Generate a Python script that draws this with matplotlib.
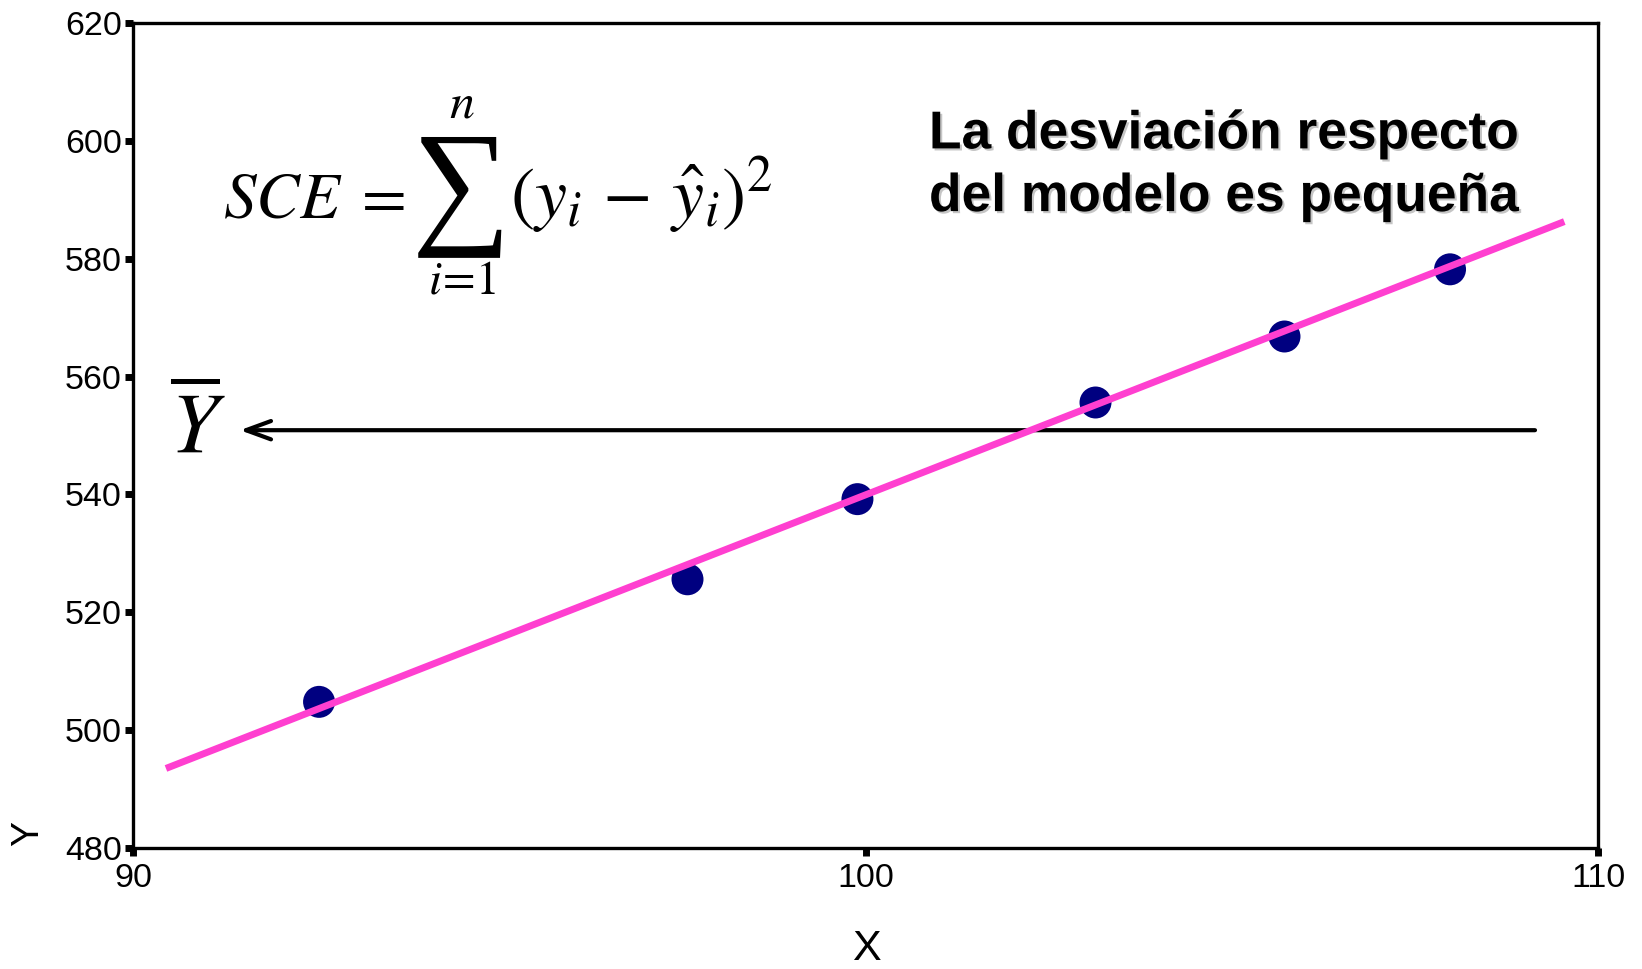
import matplotlib
matplotlib.use("Agg")
import matplotlib.pyplot as plt
import matplotlib.patheffects as pe

plt.rcParams['font.family'] = ['Liberation Sans', 'DejaVu Sans']
plt.rcParams['mathtext.fontset'] = 'stix'

# Observed points
x_obs = [92.54, 97.57, 99.89, 103.14, 105.72, 107.98]
y_obs = [504.8, 525.6, 539.2, 555.6, 566.8, 578.2]

# Fitted regression line end points
x_fit = [90.45, 109.54]
y_fit = [493.5, 586.3]

# Level of the mean reference arrow and its extent
y_mean_level = 550.9
arrow_x_start = 109.14
arrow_x_end = 91.46

x_ticks = [90, 100, 110]
y_ticks = [480, 500, 520, 540, 560, 580, 600, 620]

W, H = 1642, 969
fig = plt.figure(figsize=(W / 100, H / 100), dpi=100)
ax_left, ax_right, ax_top, ax_bottom = 133, 1598, 23, 848
ax = fig.add_axes([ax_left / W, 1 - ax_bottom / H,
                   (ax_right - ax_left) / W, (ax_bottom - ax_top) / H])


def frac(px, py):
    """Pixel position in the image -> axes fraction."""
    return ((px - ax_left) / (ax_right - ax_left),
            (ax_bottom - py) / (ax_bottom - ax_top))


ax.plot(x_fit, y_fit, color='#ff3fd0', lw=5, solid_capstyle='butt', zorder=3)
ax.scatter(x_obs, y_obs, s=530, color='#000080', edgecolors='none', zorder=2)

ax.annotate('', xy=(arrow_x_end, y_mean_level), xytext=(arrow_x_start, y_mean_level),
            arrowprops=dict(arrowstyle='->,head_length=0.6,head_width=0.22',
                            lw=3, color='black', mutation_scale=30,
                            shrinkA=0, shrinkB=0),
            zorder=1)

ax.set_xlim(90, 110)
ax.set_ylim(480, 620)
ax.set_xticks(x_ticks)
ax.set_yticks(y_ticks)
ax.tick_params(axis='both', direction='out', length=6, width=5, labelsize=24.5,
               color='black', top=False, right=False)
ax.tick_params(axis='y', pad=2)
ax.tick_params(axis='x', pad=5)
for s in ax.spines.values():
    s.set_linewidth(2.4)
    s.set_color('black')

ax.set_xlabel('X', fontsize=31)
ax.xaxis.set_label_coords(*frac(866, 960))
ax.xaxis.label.set_verticalalignment('baseline')
ax.set_ylabel('Y', fontsize=27)
ax.yaxis.set_label_coords(-0.0717, 0.018)
ax.yaxis.label.set_verticalalignment('center')

# Sum of squared errors formula, set piece by piece in display style
ax.text(*frac(223, 217), r'$SCE\;=$', transform=ax.transAxes,
        fontsize=47, ha='left', va='baseline')
ax.text(*frac(461, 194), '\u2211', transform=ax.transAxes,
        family='Liberation Serif', fontsize=100, ha='center', va='center')
ax.text(*frac(462, 105), r'$n$', transform=ax.transAxes,
        fontsize=36, ha='center', va='center')
ax.text(*frac(462, 282), r'$i\!=\!1$', transform=ax.transAxes,
        fontsize=34, ha='center', va='center')
ax.text(*frac(510, 217), r'$(y_i\,-\,\hat{y}_i)^2$', transform=ax.transAxes,
        fontsize=52, ha='left', va='baseline')

# Mean label
ax.text(0.0444, 0.508, r'$\overline{Y}$', transform=ax.transAxes,
        fontsize=61, ha='center', va='center')

shadow = [pe.SimplePatchShadow(offset=(1.5, -1.5), shadow_rgbFace='#808080', alpha=0.45),
          pe.Normal()]
ax.text(0.745, 0.848, 'La desviación respecto', transform=ax.transAxes,
        fontsize=38.4, fontweight='bold', ha='center', va='baseline',
        path_effects=shadow)
ax.text(0.745, 0.772, 'del modelo es pequeña', transform=ax.transAxes,
        fontsize=38.4, fontweight='bold', ha='center', va='baseline',
        path_effects=shadow)

fig.savefig('out.png', dpi=100, facecolor='white')
